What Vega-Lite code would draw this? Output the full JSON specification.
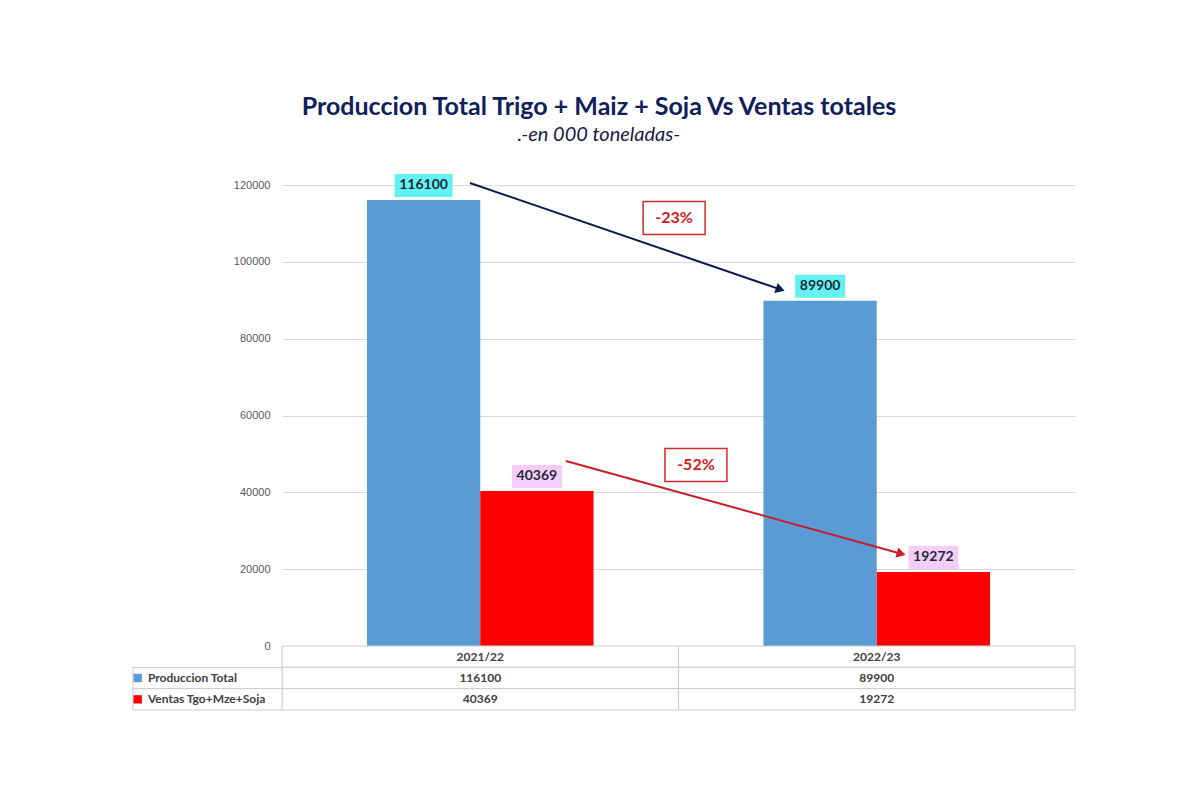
{
  "$schema": "https://vega.github.io/schema/vega-lite/v6.json",
  "background": "white",
  "padding": {"left": 132, "top": 94, "right": 10, "bottom": 10},
  "title": {
    "text": "Produccion Total Trigo + Maiz + Soja Vs Ventas totales",
    "subtitle": ".-en 000 toneladas-",
    "anchor": "middle",
    "dx": -5,
    "offset": 29,
    "font": "Lato",
    "fontSize": 25,
    "fontWeight": "bold",
    "color": "#10205a",
    "subtitleFont": "Lato",
    "subtitleFontSize": 20,
    "subtitleFontStyle": "italic",
    "subtitleColor": "#1a1a40",
    "subtitlePadding": 5
  },
  "datasets": {
    "main": [
      {"period": "2021/22", "series": "Produccion Total", "value": 116100},
      {"period": "2021/22", "series": "Ventas Tgo+Mze+Soja", "value": 40369},
      {"period": "2022/23", "series": "Produccion Total", "value": 89900},
      {"period": "2022/23", "series": "Ventas Tgo+Mze+Soja", "value": 19272}
    ],
    "arrows": [
      {"serie": "Produccion Total", "x_from": 0.474, "y_from": 120520, "x_to": 1.2567, "y_to": 92824},
      {"serie": "Ventas Tgo+Mze+Soja", "x_from": 0.716, "y_from": 48156, "x_to": 1.5617, "y_to": 24026}
    ],
    "changes": [
      {"serie": "Produccion Total", "label": "-23%", "x": 0.989, "y": 111400},
      {"serie": "Ventas Tgo+Mze+Soja", "label": "-52%", "x": 1.044, "y": 47100}
    ]
  },
  "spacing": 0,
  "bounds": "flush",
  "vconcat": [
    {
      "width": 793,
      "height": 461,
      "resolve": {"scale": {"x": "independent"}},
      "layer": [
        {
          "data": {"name": "main"},
          "mark": {"type": "bar"},
          "encoding": {
            "x": {"field": "period", "type": "nominal", "scale": {"paddingInner": 0, "paddingOuter": 0}, "axis": null},
            "xOffset": {"field": "series", "type": "nominal", "scale": {"paddingInner": 0, "paddingOuter": 0.75}},
            "y": {
              "field": "value", "type": "quantitative",
              "scale": {"domain": [0, 120000], "nice": false},
              "axis": {
                "values": [0, 20000, 40000, 60000, 80000, 100000, 120000],
                "format": "d", "title": null, "domain": false, "ticks": false,
                "labelPadding": 12, "labelFont": "Liberation Sans", "labelFontSize": 11,
                "labelColor": "#595959", "gridColor": "#d9d9d9", "grid": true
              }
            },
            "color": {"field": "series", "type": "nominal", "scale": {"domain": ["Produccion Total", "Ventas Tgo+Mze+Soja"], "range": ["#5b9bd5", "#ff0000"]}, "legend": null}
          }
        },
        {
          "data": {"name": "main"},
          "transform": [{"filter": "datum.value >= 100000"}],
          "mark": {"type": "bar", "width": 58, "yOffset": -26, "y2Offset": -3},
          "encoding": {
            "x": {"field": "period", "type": "nominal", "scale": {"paddingInner": 0, "paddingOuter": 0}, "axis": null},
            "xOffset": {"field": "series", "type": "nominal", "scale": {"paddingInner": 0, "paddingOuter": 0.75}},
            "y": {"field": "value", "type": "quantitative"},
            "y2": {"field": "value"},
            "fill": {"condition": {"test": "datum.series == 'Produccion Total'", "value": "#62f2f2"}, "value": "#f5cdf8"}
          }
        },
        {
          "data": {"name": "main"},
          "transform": [{"filter": "datum.value < 100000"}],
          "mark": {"type": "bar", "width": 50, "yOffset": -26, "y2Offset": -3},
          "encoding": {
            "x": {"field": "period", "type": "nominal", "scale": {"paddingInner": 0, "paddingOuter": 0}, "axis": null},
            "xOffset": {"field": "series", "type": "nominal", "scale": {"paddingInner": 0, "paddingOuter": 0.75}},
            "y": {"field": "value", "type": "quantitative"},
            "y2": {"field": "value"},
            "fill": {"condition": {"test": "datum.series == 'Produccion Total'", "value": "#62f2f2"}, "value": "#f5cdf8"}
          }
        },
        {
          "data": {"name": "main"},
          "mark": {"type": "text", "baseline": "middle", "align": "center", "dy": -14.5, "font": "Lato", "fontSize": 14, "fontWeight": "bold", "color": "#1f2a36"},
          "encoding": {
            "x": {"field": "period", "type": "nominal", "scale": {"paddingInner": 0, "paddingOuter": 0}, "axis": null},
            "xOffset": {"field": "series", "type": "nominal", "scale": {"paddingInner": 0, "paddingOuter": 0.75}},
            "y": {"field": "value", "type": "quantitative"},
            "text": {"field": "value", "type": "quantitative", "format": "d"}
          }
        },
        {
          "data": {"name": "arrows"},
          "transform": [{"filter": "datum.serie == 'Produccion Total'"}],
          "mark": {"type": "rule", "color": "#0d1b4f", "strokeWidth": 2},
          "encoding": {
            "x": {"field": "x_from", "type": "quantitative", "scale": {"domain": [0, 2], "nice": false, "zero": false}, "axis": null},
            "x2": {"field": "x_to"},
            "y": {"field": "y_from", "type": "quantitative"},
            "y2": {"field": "y_to"}
          }
        },
        {
          "data": {"name": "arrows"},
          "transform": [{"filter": "datum.serie == 'Produccion Total'"}],
          "mark": {"type": "point", "shape": "triangle-right", "filled": true, "opacity": 1, "size": 110, "angle": 18.9, "color": "#0d1b4f"},
          "encoding": {
            "x": {"field": "x_to", "type": "quantitative", "scale": {"domain": [0, 2], "nice": false, "zero": false}, "axis": null},
            "y": {"field": "y_to", "type": "quantitative"}
          }
        },
        {
          "data": {"name": "arrows"},
          "transform": [{"filter": "datum.serie == 'Ventas Tgo+Mze+Soja'"}],
          "mark": {"type": "rule", "color": "#c81e28", "strokeWidth": 2},
          "encoding": {
            "x": {"field": "x_from", "type": "quantitative", "scale": {"domain": [0, 2], "nice": false, "zero": false}, "axis": null},
            "x2": {"field": "x_to"},
            "y": {"field": "y_from", "type": "quantitative"},
            "y2": {"field": "y_to"}
          }
        },
        {
          "data": {"name": "arrows"},
          "transform": [{"filter": "datum.serie == 'Ventas Tgo+Mze+Soja'"}],
          "mark": {"type": "point", "shape": "triangle-right", "filled": true, "opacity": 1, "size": 110, "angle": 15.5, "color": "#c81e28"},
          "encoding": {
            "x": {"field": "x_to", "type": "quantitative", "scale": {"domain": [0, 2], "nice": false, "zero": false}, "axis": null},
            "y": {"field": "y_to", "type": "quantitative"}
          }
        },
        {
          "data": {"name": "changes"},
          "mark": {"type": "rect", "fill": "white", "stroke": "#d42a2a", "strokeWidth": 1.5, "xOffset": -31, "x2Offset": 31, "yOffset": -16.5, "y2Offset": 16.5},
          "encoding": {
            "x": {"field": "x", "type": "quantitative", "scale": {"domain": [0, 2], "nice": false, "zero": false}, "axis": null},
            "x2": {"field": "x"},
            "y": {"field": "y", "type": "quantitative"},
            "y2": {"field": "y"}
          }
        },
        {
          "data": {"name": "changes"},
          "mark": {"type": "text", "align": "center", "baseline": "middle", "font": "Lato", "fontSize": 16, "fontWeight": "bold", "color": "#d01c1c"},
          "encoding": {
            "x": {"field": "x", "type": "quantitative", "scale": {"domain": [0, 2], "nice": false, "zero": false}, "axis": null},
            "y": {"field": "y", "type": "quantitative"},
            "text": {"field": "label"}
          }
        }
      ]
    },
    {
      "width": 793,
      "height": 64,
      "resolve": {"scale": {"x": "independent"}},
      "layer": [
        {
          "data": {"name": "main"},
          "transform": [{"filter": "datum.series == 'Produccion Total'"}],
          "mark": {"type": "rect", "fill": "white", "stroke": "#cccccc", "strokeWidth": 1},
          "encoding": {
            "x": {"field": "period", "type": "nominal", "scale": {"paddingInner": 0, "paddingOuter": 0}, "axis": null},
            "y": {"datum": "header", "type": "nominal", "scale": {"domain": ["header", "Produccion Total", "Ventas Tgo+Mze+Soja"], "paddingInner": 0, "paddingOuter": 0}, "axis": null}
          }
        },
        {
          "data": {"name": "main"},
          "mark": {"type": "rect", "fill": "white", "stroke": "#cccccc", "strokeWidth": 1},
          "encoding": {
            "x": {"field": "period", "type": "nominal", "scale": {"paddingInner": 0, "paddingOuter": 0}, "axis": null},
            "y": {"field": "series", "type": "nominal"}
          }
        },
        {
          "data": {"name": "main"},
          "transform": [{"filter": "datum.period == '2021/22'"}],
          "mark": {"type": "rect", "fill": "white", "stroke": "#cccccc", "strokeWidth": 1},
          "encoding": {
            "x": {"datum": -0.376, "type": "quantitative", "scale": {"domain": [0, 2], "nice": false, "zero": false}, "axis": null},
            "x2": {"datum": 0},
            "y": {"field": "series", "type": "nominal"}
          }
        },
        {
          "data": {"name": "main"},
          "transform": [{"filter": "datum.series == 'Produccion Total'"}],
          "mark": {"type": "text", "align": "center", "baseline": "middle", "font": "Lato", "fontSize": 12, "fontWeight": "bold", "color": "#404040"},
          "encoding": {
            "x": {"field": "period", "type": "nominal", "scale": {"paddingInner": 0, "paddingOuter": 0}, "axis": null},
            "y": {"datum": "header", "type": "nominal"},
            "text": {"field": "period"}
          }
        },
        {
          "data": {"name": "main"},
          "mark": {"type": "text", "align": "center", "baseline": "middle", "font": "Lato", "fontSize": 12, "fontWeight": "bold", "color": "#404040"},
          "encoding": {
            "x": {"field": "period", "type": "nominal", "scale": {"paddingInner": 0, "paddingOuter": 0}, "axis": null},
            "y": {"field": "series", "type": "nominal"},
            "text": {"field": "value", "type": "quantitative", "format": "d"}
          }
        },
        {
          "data": {"name": "main"},
          "transform": [{"filter": "datum.period == '2021/22'"}],
          "mark": {"type": "square", "filled": true, "opacity": 1, "size": 70},
          "encoding": {
            "x": {"datum": -0.364, "type": "quantitative", "scale": {"domain": [0, 2], "nice": false, "zero": false}, "axis": null},
            "y": {"field": "series", "type": "nominal"},
            "color": {"field": "series", "type": "nominal", "scale": {"domain": ["Produccion Total", "Ventas Tgo+Mze+Soja"], "range": ["#5b9bd5", "#ff0000"]}, "legend": null}
          }
        },
        {
          "data": {"name": "main"},
          "transform": [{"filter": "datum.period == '2021/22'"}],
          "mark": {"type": "text", "align": "left", "baseline": "middle", "font": "Lato", "fontSize": 12, "fontWeight": "bold", "color": "#404040"},
          "encoding": {
            "x": {"datum": -0.338, "type": "quantitative", "scale": {"domain": [0, 2], "nice": false, "zero": false}, "axis": null},
            "y": {"field": "series", "type": "nominal"},
            "text": {"field": "series"}
          }
        }
      ]
    }
  ],
  "config": {
    "view": {"stroke": null}
  }
}
